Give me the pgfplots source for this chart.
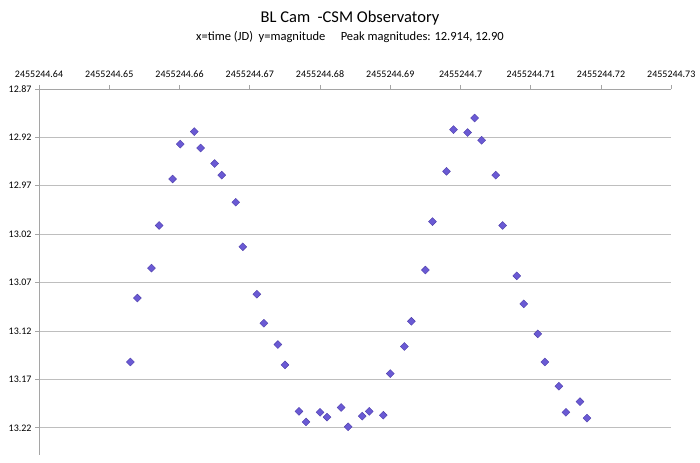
\documentclass[border=0pt]{standalone}
\usepackage{pgfplots}
\pgfplotsset{compat=1.18}
\usepackage{fontspec}
\setmainfont{Carlito}

\definecolor{markfill}{RGB}{106,90,212}
\definecolor{markedge}{RGB}{78,62,170}
\definecolor{gridgray}{RGB}{190,190,190}
\definecolor{axisgray}{RGB}{165,165,165}

% BL Cam light curve; x = JD - 2455244, y = magnitude
\pgfplotstableread{
x       mag
0.6530  13.152
0.6540  13.086
0.6560  13.055
0.6571  13.011
0.6590  12.963
0.6601  12.927
0.6621  12.914
0.6630  12.931
0.6650  12.947
0.6660  12.959
0.6680  12.987
0.6690  13.033
0.6710  13.082
0.6720  13.112
0.6740  13.134
0.6750  13.155
0.6770  13.203
0.6780  13.214
0.6800  13.204
0.6810  13.209
0.6830  13.199
0.6840  13.219
0.6860  13.208
0.6870  13.203
0.6890  13.207
0.6900  13.164
0.6920  13.136
0.6930  13.110
0.6950  13.057
0.6960  13.007
0.6980  12.955
0.6990  12.912
0.7010  12.915
0.7020  12.900
0.7030  12.923
0.7050  12.959
0.7060  13.011
0.7080  13.063
0.7090  13.092
0.7110  13.123
0.7120  13.152
0.7140  13.177
0.7150  13.204
0.7170  13.193
0.7180  13.210
}\lightcurve

\begin{document}
\begin{tikzpicture}[x=1bp,y=1bp]
\useasboundingbox (0,0) rectangle (700,463);
\node[font=\fontsize{16.5bp}{18bp}\selectfont] at (350,445) {BL Cam \ -CSM Observatory};
\node[font=\fontsize{12.5bp}{14bp}\selectfont] at (350,426) {x=time (JD) \ y=magnitude \quad Peak magnitudes: 12.914, 12.90};
\begin{axis}[
  at={(39.05bp,8bp)}, anchor=south west,
  scale only axis, width=632.25bp, height=366bp,
  xmin=0.64, xmax=0.73, ymin=12.87, ymax=13.2481,
  y dir=reverse,
  axis x line*=top, axis y line*=left,
  axis line style={draw=axisgray, line width=0.8pt, -},
  xtick={0.64,0.65,...,0.735},
  xticklabels={2455244.64,2455244.65,2455244.66,2455244.67,2455244.68,2455244.69,2455244.7,2455244.71,2455244.72,2455244.73},
  ytick={12.87,12.92,12.97,13.02,13.07,13.12,13.17,13.22},
  yticklabels={12.87,12.92,12.97,13.02,13.07,13.12,13.17,13.22},
  tick align=outside, major tick length=4bp,
  tick style={draw=axisgray, line width=0.8pt},
  ticklabel style={font=\fontsize{10bp}{12bp}\selectfont, text=black},
  xticklabel style={yshift=4bp},
  ymajorgrids, grid style={draw=gridgray, line width=0.9pt},
  clip=false,
]
\addplot[only marks, mark=square*, mark size=2.8bp,
  mark options={rotate=45, fill=markfill, draw=markedge, line width=0.4pt}]
  table[x=x, y=mag] {\lightcurve};
\end{axis}
\end{tikzpicture}
\end{document}
